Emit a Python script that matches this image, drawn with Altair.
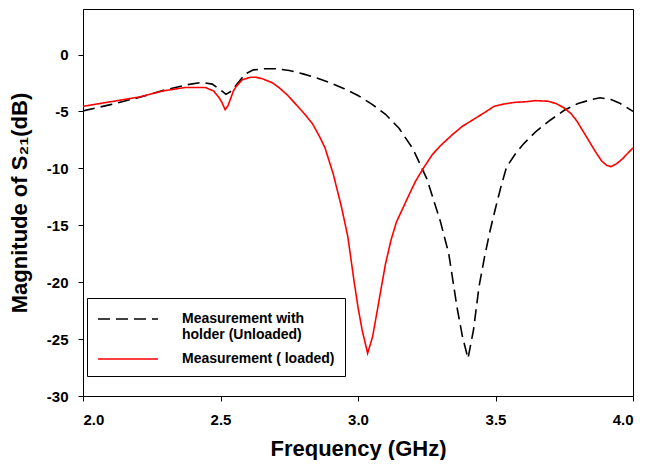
import altair as alt
import pandas as pd

# Series 1: Measurement with holder (Unloaded) - black dashed
unloaded_freq = [2.0, 2.1, 2.2, 2.3, 2.38, 2.43, 2.47, 2.50, 2.52, 2.54, 2.56, 2.59, 2.62, 2.66,
                 2.70, 2.75, 2.80, 2.85, 2.90, 2.95, 3.00, 3.05, 3.10, 3.15, 3.20, 3.25, 3.27,
                 3.30, 3.33, 3.36, 3.38, 3.40, 3.42, 3.44, 3.46, 3.48, 3.50, 3.52, 3.54, 3.57,
                 3.60, 3.65, 3.70, 3.75, 3.80, 3.85, 3.88, 3.92, 3.95, 4.00]
unloaded_db = [-4.95, -4.4, -3.8, -3.1, -2.65, -2.45, -2.6, -3.1, -3.5, -3.2, -2.6, -1.7, -1.35, -1.25,
               -1.25, -1.4, -1.7, -2.05, -2.5, -3.0, -3.6, -4.35, -5.25, -6.5, -8.3, -10.9, -12.4,
               -14.7, -17.5, -22.2, -24.8, -26.7, -24.2, -20.4, -17.8, -15.5, -13.5, -11.6, -9.9, -8.8,
               -7.9, -6.7, -5.75, -4.9, -4.3, -3.95, -3.8, -3.95, -4.25, -5.0]

# Series 2: Measurement ( loaded) - red solid
loaded_freq = [2.0, 2.1, 2.2, 2.29, 2.37, 2.445, 2.475, 2.495, 2.505, 2.517, 2.527, 2.535, 2.547, 2.557,
               2.58, 2.61, 2.63, 2.655, 2.69, 2.715, 2.745, 2.775, 2.805, 2.835, 2.86, 2.88, 2.91,
               2.94, 2.963, 2.985, 3.0, 3.015, 3.035, 3.053, 3.07, 3.083, 3.10, 3.12, 3.14, 3.165,
               3.19, 3.21, 3.24, 3.27, 3.30, 3.345, 3.38, 3.42, 3.46, 3.495, 3.53, 3.57, 3.61,
               3.645, 3.69, 3.72, 3.75, 3.775, 3.796, 3.82, 3.84, 3.865, 3.886, 3.905, 3.92, 3.94,
               3.96, 3.98, 4.0]
loaded_db = [-4.55, -4.15, -3.75, -3.2, -2.9, -2.9, -3.2, -3.8, -4.2, -4.85, -4.5, -4.0, -3.2, -2.8,
             -2.2, -2.0, -2.0, -2.15, -2.5, -2.95, -3.6, -4.4, -5.2, -6.1, -7.2, -8.2, -10.5,
             -13.4, -16.0, -19.8, -22.2, -24.2, -26.25, -24.8, -22.5, -20.7, -18.4, -16.3, -14.7, -13.4,
             -12.1, -11.1, -9.9, -8.8, -8.0, -7.0, -6.3, -5.7, -5.1, -4.55, -4.35, -4.2, -4.15,
             -4.05, -4.1, -4.3, -4.7, -5.2, -5.85, -6.8, -7.6, -8.6, -9.35, -9.75, -9.85, -9.6,
             -9.2, -8.7, -8.2]

series_names = ["Measurement with holder (Unloaded)", "Measurement ( loaded)"]
series_colors = ["#000000", "#ff0000"]
series_dashes = [[12, 6], [1, 0]]
x_ticks = [2.0, 2.5, 3.0, 3.5, 4.0]
y_ticks = [-30, -25, -20, -15, -10, -5, 0]

df = pd.concat([
    pd.DataFrame({"freq": unloaded_freq, "db": unloaded_db, "series": series_names[0]}),
    pd.DataFrame({"freq": loaded_freq, "db": loaded_db, "series": series_names[1]}),
])

FONT = "Liberation Sans"

legend = alt.Legend(
    title=None, orient="none", legendX=4, legendY=289,
    strokeColor="black", fillColor="white", padding=10,
    labelFont=FONT, labelFontSize=14, labelFontWeight="bold", labelColor="black",
    labelLimit=400, labelOffset=63, rowPadding=6,
    symbolType="M-1,0H5", symbolSize=400, symbolStrokeWidth=1.6,
    labelExpr="datum.label == 'Measurement with holder (Unloaded)' ? ['Measurement with', 'holder (Unloaded)'] : datum.label",
)

chart = alt.Chart(df).mark_line(strokeWidth=1.6).encode(
    x=alt.X("freq:Q",
            scale=alt.Scale(domain=[2.0, 4.0], nice=False, zero=False),
            axis=alt.Axis(values=x_ticks, format=".1f", title="Frequency (GHz)",
                          labelPadding=11, titleY=59, titleBaseline="alphabetic")),
    y=alt.Y("db:Q",
            scale=alt.Scale(domain=[-30, 4], nice=False, zero=False),
            axis=alt.Axis(values=y_ticks, labelExpr="'' + datum.value", title="Magnitude of S\u2082\u2081(dB)",
                          labelPadding=10, titleX=-57, titleY=193.5, titleAngle=270,
                          titleBaseline="alphabetic", titleAlign="center")),
    color=alt.Color("series:N", scale=alt.Scale(domain=series_names, range=series_colors), legend=legend),
    strokeDash=alt.StrokeDash("series:N", scale=alt.Scale(domain=series_names, range=series_dashes), legend=legend),
).properties(
    width=550, height=387,
    autosize=alt.AutoSizeParams(type="none"),
    padding={"left": 75, "top": 1, "right": 4, "bottom": 64},
).configure_view(
    stroke="black", strokeWidth=1
).configure_axis(
    grid=False, domainColor="black", tickColor="black", tickSize=5, domainWidth=1, tickWidth=1,
    labelFont=FONT, labelFontSize=15, labelFontWeight="bold", labelColor="black",
    titleFont=FONT, titleFontSize=22, titleFontWeight="bold", titleColor="black",
)

chart.save("out.html", embed_options={"renderer": "svg", "actions": False})
